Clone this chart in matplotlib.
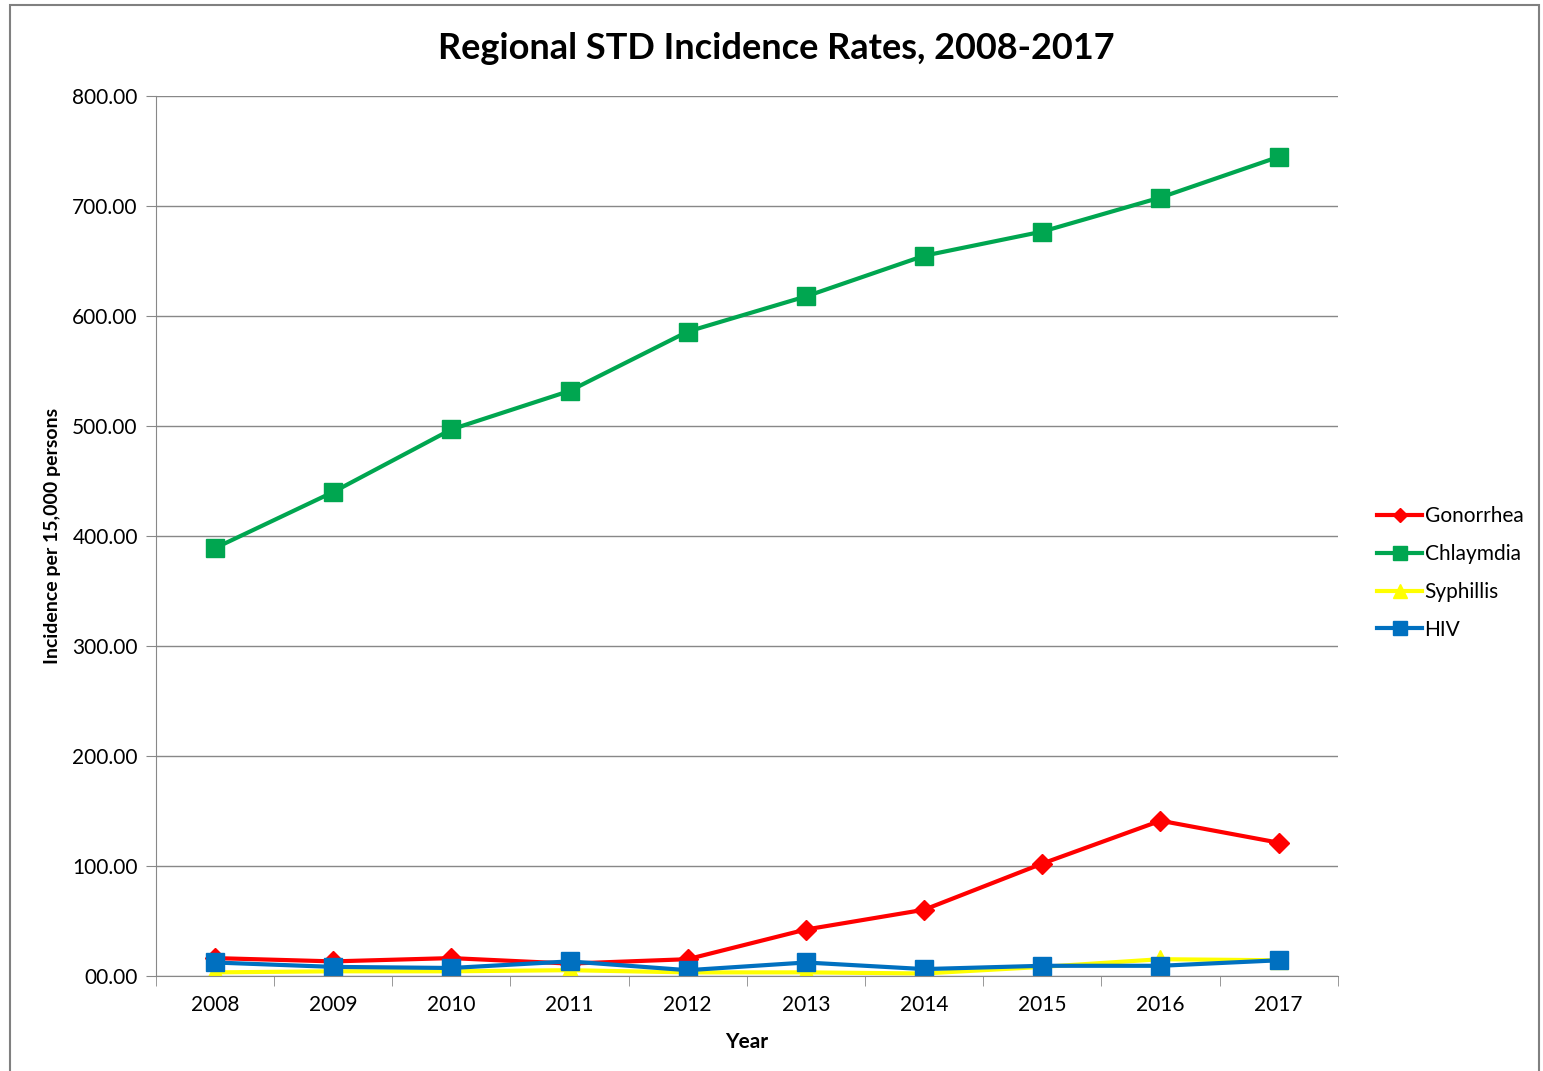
import matplotlib.pyplot as plt
from matplotlib.patches import Rectangle

years = ["2008", "2009", "2010", "2011", "2012", "2013", "2014", "2015", "2016", "2017"]
gonorrhea = [16, 13, 16, 11, 15, 42, 60, 102, 141, 121]
chlamydia = [389, 440, 497, 532, 586, 618, 655, 677, 708, 745]
syphilis = [3, 4, 4, 5, 3, 3, 2, 8, 15, 14]
hiv = [12, 8, 7, 13, 5, 12, 6, 9, 9, 14]

plt.rcParams['font.family'] = ['Lato', 'DejaVu Sans']

fig = plt.figure(figsize=(15.43, 10.71), dpi=100)
fig.patches.append(Rectangle((0.0065, -0.01), 0.991, 1.005, transform=fig.transFigure,
                             fill=False, edgecolor='#808080', linewidth=1.5))
ax = fig.add_axes([0.101, 0.089, 0.766, 0.821])

x = list(range(len(years)))
ax.plot(x, gonorrhea, color='#FF0000', lw=3, marker='D', ms=10, label='Gonorrhea')
ax.plot(x, chlamydia, color='#00A650', lw=3, marker='s', ms=12.5, label='Chlaymdia')
ax.plot(x, syphilis, color='#FFFF00', lw=3, marker='^', ms=12.5, label='Syphillis')
ax.plot(x, hiv, color='#0070C0', lw=3, marker='s', ms=12.5, label='HIV')

ax.set_xlim(-0.5, len(years) - 0.5)
ax.set_ylim(0, 800)
ax.set_yticks(range(0, 801, 100))
ax.set_yticklabels(["00.00" if v == 0 else f"{v:.2f}" for v in range(0, 801, 100)])
ax.set_xticks(x)
ax.set_xticklabels(years)
ax.set_xticks([i - 0.5 for i in range(len(years) + 1)], minor=True)
ax.tick_params(axis='x', which='major', length=0, labelsize=15, pad=14)
ax.tick_params(axis='x', which='minor', length=7, color='#888888')
ax.tick_params(axis='y', length=7, color='#888888', labelsize=15, pad=6)
ax.yaxis.grid(True, color='#888888', lw=1)
ax.set_axisbelow(True)
for s in ['top', 'right']:
    ax.spines[s].set_visible(False)
for s in ['left', 'bottom']:
    ax.spines[s].set_color('#888888')

ax.set_xlabel('Year', fontsize=15, fontweight='bold', labelpad=12)
ax.set_ylabel('Incidence per 15,000 persons', fontsize=14, fontweight='bold', labelpad=8)
fig.text(0.503, 0.955, 'Regional STD Incidence Rates, 2008-2017', ha='center', va='center',
         fontsize=26, fontweight='bold')

ax.legend(loc='center left', bbox_to_anchor=(1.017, 0.458), frameon=False, fontsize=15,
          handlelength=2.2, handletextpad=0.1, labelspacing=0.85, markerscale=0.75)

fig.savefig('out.png', dpi=100)
